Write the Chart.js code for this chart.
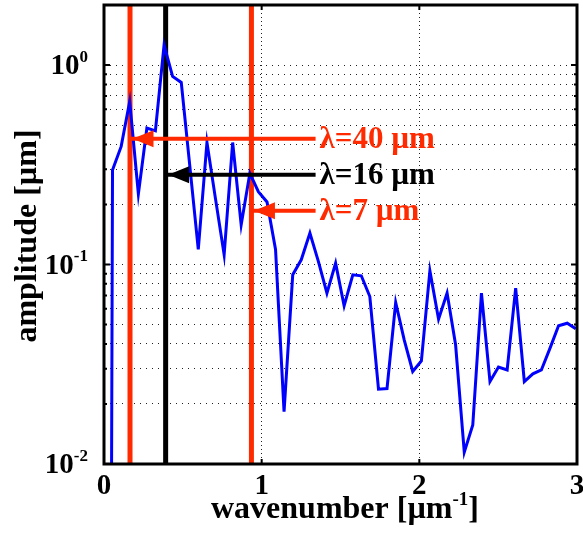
<!DOCTYPE html>
<html>
<head>
<meta charset="utf-8">
<script src="https://cdn.jsdelivr.net/npm/chart.js@4.4.0/dist/chart.umd.min.js"></script>
<style>
  html, body { margin: 0; padding: 0; background: #fff; }
  canvas { display: block; }
</style>
</head>
<body>
<canvas id="spectrum" width="583" height="535"></canvas>
<script>
/* ===== Data ===== */
const wavenumber = [0, 0.054, 0.109, 0.163, 0.218, 0.272, 0.326, 0.381, 0.435, 0.490, 0.544,
    0.598, 0.653, 0.707, 0.762, 0.816, 0.870, 0.925, 0.979, 1.034, 1.088,
    1.142, 1.197, 1.251, 1.306, 1.360, 1.414, 1.469, 1.523, 1.578, 1.632,
    1.686, 1.741, 1.795, 1.850, 1.904, 1.958, 2.013, 2.067, 2.122, 2.176,
    2.230, 2.285, 2.339, 2.394, 2.448, 2.502, 2.557, 2.611, 2.666, 2.720,
    2.774, 2.829, 2.883, 2.938, 2.992];
const amplitude = [1e-14, 0.298, 0.391, 0.657, 0.226, 0.483, 0.468, 1.26, 0.877, 0.818, 0.313,
    0.119, 0.409, 0.214, 0.112, 0.409, 0.158, 0.287, 0.232, 0.206, 0.119,
    0.0183, 0.0888, 0.1056, 0.1437, 0.1035, 0.0719, 0.1016, 0.0621, 0.0888, 0.0878,
    0.0691, 0.0237, 0.0239, 0.0645, 0.0419, 0.0291, 0.0329, 0.0929, 0.0532, 0.0719,
    0.0396, 0.01146, 0.0157, 0.0719, 0.0259, 0.0306, 0.0296, 0.0761, 0.0259, 0.0283,
    0.0296, 0.0381, 0.0493, 0.0508, 0.0476];

// cutoff wavelengths, where they sit on the wavenumber axis, and the arrow heights
const lambdaLabels = ['λ=40 µm', 'λ=16 µm', 'λ=7 µm'];
const lambdaWavenumber = [0.165, 0.391, 0.935];
const arrowLevel = [0.427, 0.282, 0.186];
const arrowTail = 1.342;

const xTicks = [0, 1, 2, 3];
const yDecades = [-2, -1, 0];
const yMin = 0.01, yMax = 2;

const RED = '#ff2a00';
const lambdaColors = [RED, '#000000', RED];
const FONT = '"Liberation Serif", "Times New Roman", serif';

/* ===== Datasets ===== */
const datasets = [];

lambdaWavenumber.forEach((w, i) => {
    datasets.push({
        data: [{x: w, y: yMin}, {x: w, y: yMax}],
        borderColor: lambdaColors[i],
        borderWidth: 5,
        order: 3
    });
});

datasets.push({
    data: wavenumber.map((x, i) => ({x: x, y: amplitude[i]})),
    borderColor: '#0000ff',
    borderWidth: 3,
    order: 2
});

lambdaWavenumber.forEach((w, i) => {
    datasets.push({
        data: [{x: w, y: arrowLevel[i]}, {x: arrowTail, y: arrowLevel[i]}],
        borderColor: lambdaColors[i],
        borderWidth: 4,
        borderCapStyle: 'butt',
        order: 1
    });
});

/* ===== Frame, ticks, arrowheads and text ===== */
function supText(ctx, base, sup, x, y, size, supSize, align){
    ctx.font = 'bold ' + size + 'px ' + FONT;
    const wb = ctx.measureText(base).width;
    ctx.font = 'bold ' + supSize + 'px ' + FONT;
    const ws = ctx.measureText(sup).width;
    let left = x;
    if(align === 'right') left = x - wb - ws;
    if(align === 'center') left = x - (wb + ws) / 2;
    ctx.textAlign = 'left';
    ctx.textBaseline = 'alphabetic';
    ctx.font = 'bold ' + size + 'px ' + FONT;
    ctx.fillText(base, left, y);
    ctx.font = 'bold ' + supSize + 'px ' + FONT;
    ctx.fillText(sup, left + wb, y - size * 0.42);
    return left + wb + ws;
}

const decorations = {
    id: 'decorations',
    afterDatasetsDraw(chart){
        const ctx = chart.ctx;
        const xs = chart.scales.x, ys = chart.scales.y;
        const a = chart.chartArea;
        ctx.save();

        // arrowheads pointing at the cutoff lines
        lambdaWavenumber.forEach((w, i) => {
            const tip = xs.getPixelForValue(w) + 2.5;
            const py = ys.getPixelForValue(arrowLevel[i]);
            ctx.fillStyle = lambdaColors[i];
            ctx.beginPath();
            ctx.moveTo(tip, py);
            ctx.lineTo(tip + 21, py - 8.5);
            ctx.lineTo(tip + 21, py + 8.5);
            ctx.closePath();
            ctx.fill();
        });

        // labels at the arrow tails
        lambdaLabels.forEach((t, i) => {
            ctx.fillStyle = lambdaColors[i];
            ctx.font = 'bold 31px ' + FONT;
            ctx.textAlign = 'left';
            ctx.textBaseline = 'middle';
            ctx.fillText(t, xs.getPixelForValue(arrowTail) + 4, ys.getPixelForValue(arrowLevel[i]) + 1);
        });

        // axes box
        ctx.strokeStyle = '#000';
        ctx.lineWidth = 3;
        ctx.strokeRect(a.left, a.top, a.right - a.left, a.bottom - a.top);

        // tick marks inside the box
        ctx.lineWidth = 2;
        ctx.beginPath();
        xTicks.forEach(v => {
            const px = xs.getPixelForValue(v);
            ctx.moveTo(px, a.bottom); ctx.lineTo(px, a.bottom - 5);
            ctx.moveTo(px, a.top); ctx.lineTo(px, a.top + 5);
        });
        yDecades.forEach(d => {
            for(let m = 1; m < 10; m++){
                const v = m * Math.pow(10, d);
                if(v > yMax) break;
                const py = ys.getPixelForValue(v);
                const len = m === 1 ? 6 : 3;
                ctx.moveTo(a.left, py); ctx.lineTo(a.left + len, py);
                ctx.moveTo(a.right, py); ctx.lineTo(a.right - len, py);
            }
        });
        ctx.stroke();

        // tick labels
        ctx.fillStyle = '#000';
        xTicks.forEach(v => {
            ctx.font = 'bold 29px ' + FONT;
            ctx.textAlign = 'center';
            ctx.textBaseline = 'alphabetic';
            ctx.fillText(String(v), xs.getPixelForValue(v), a.bottom + 30);
        });
        yDecades.forEach(d => {
            supText(ctx, '10', String(d), 88, ys.getPixelForValue(Math.pow(10, d)) + 9, 29, 17, 'right');
        });

        // axis titles
        ctx.font = 'bold 32px ' + FONT;
        const base = 'wavenumber [µm';
        const wb = ctx.measureText(base).width;
        ctx.font = 'bold 19px ' + FONT;
        const ws = ctx.measureText('-1').width;
        ctx.font = 'bold 32px ' + FONT;
        const wc = ctx.measureText(']').width;
        const left = 345 - (wb + ws + wc) / 2;
        const end = supText(ctx, base, '-1', left, 518, 32, 19, 'left');
        ctx.font = 'bold 32px ' + FONT;
        ctx.fillText(']', end, 518);

        ctx.translate(36, 236);
        ctx.rotate(-Math.PI / 2);
        ctx.font = 'bold 32px ' + FONT;
        ctx.textAlign = 'center';
        ctx.textBaseline = 'alphabetic';
        ctx.fillText('amplitude [µm]', 0, 0);

        ctx.restore();
    }
};

/* ===== Chart ===== */
const yGridValues = [];
yDecades.forEach(d => {
    for(let m = 1; m < 10; m++){
        const v = m * Math.pow(10, d);
        if(v <= yMax) yGridValues.push(v);
    }
});

new Chart(document.getElementById('spectrum'), {
    type: 'line',
    data: {datasets: datasets},
    options: {
        responsive: false,
        animation: false,
        devicePixelRatio: 1,
        layout: {padding: {left: 104, right: 6, top: 5, bottom: 71}},
        plugins: {legend: {display: false}, tooltip: {enabled: false}},
        elements: {point: {radius: 0}, line: {tension: 0}},
        scales: {
            x: {
                type: 'linear',
                min: 0, max: 3,
                ticks: {display: false, stepSize: 1},
                afterBuildTicks: s => { s.ticks = xTicks.map(v => ({value: v})); },
                afterFit: s => { s.height = 0; },
                grid: {color: '#222', lineWidth: 1, drawTicks: false},
                border: {display: false, dash: [1, 3]}
            },
            y: {
                type: 'logarithmic',
                min: yMin, max: yMax,
                ticks: {display: false},
                afterBuildTicks: s => { s.ticks = yGridValues.map(v => ({value: v})); },
                afterFit: s => { s.width = 0; },
                grid: {color: '#222', lineWidth: 1, drawTicks: false},
                border: {display: false, dash: [1, 5]}
            }
        }
    },
    plugins: [decorations]
});
</script>
</body>
</html>
